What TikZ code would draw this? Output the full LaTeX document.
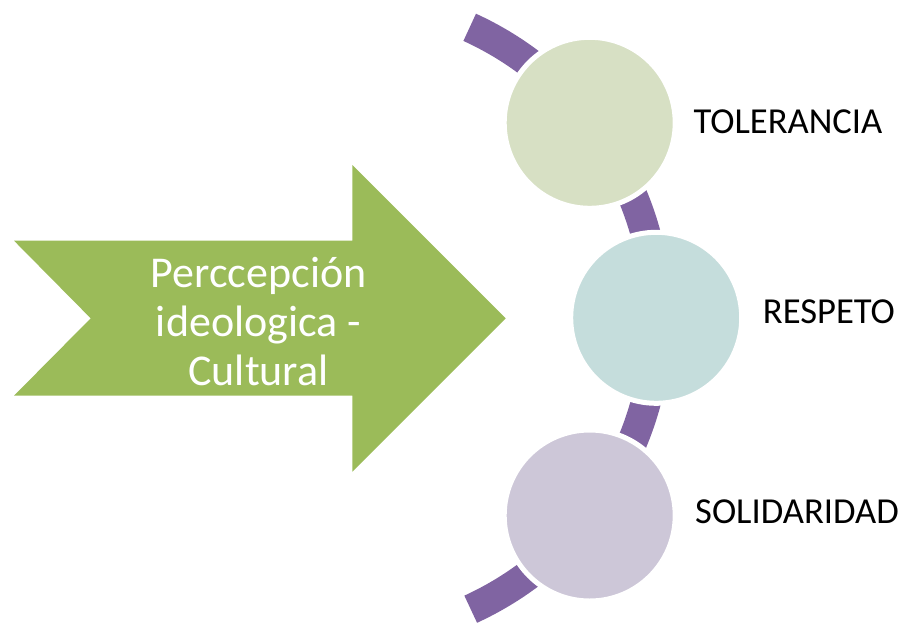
\documentclass[tikz,border=0pt]{standalone}
\usepackage{fontspec}
\setmainfont{Carlito}
\definecolor{arrowgreen}{HTML}{9BBB59}
\definecolor{arcpurple}{HTML}{8064A2}
\definecolor{cgreen}{HTML}{D7E0C4}
\definecolor{cteal}{HTML}{C5DDDC}
\definecolor{clilac}{HTML}{CDC7D8}
\begin{document}
\begin{tikzpicture}[x=1pt,y=-1pt,
  bubble/.style={circle,minimum size=171pt,inner sep=0pt,draw=white,line width=5pt},
  label/.style={anchor=base west,font=\fontsize{36.6}{43}\selectfont,text=black,inner sep=0pt},
  arctrack/.style={draw=arcpurple,line width=30pt}]
\useasboundingbox (0,0) rectangle (902,622);
% notched arrow
\path[fill=arrowgreen] (14,240.7) -- (352.3,240.7) -- (352.3,165) -- (505.7,318.3)
  -- (352.3,471.7) -- (352.3,395.7) -- (14,395.7) -- (90.7,318.3) -- cycle;
\node[anchor=center,align=center,text=white,inner sep=0pt,
  font=\fontsize{44}{49}\selectfont] (arrowtext) at (258.5,322)
  {Perccepción\\ideologica -\\Cultural};
% purple arc
\coordinate (arcc) at (337,318.5);
\draw[arctrack] ([shift={(65.3:320)}]arcc) arc[start angle=65.3,end angle=-65.5,radius=320];
% circles
\node[bubble,fill=cgreen] (c1) at (589.7,122.8) {};
\node[bubble,fill=cteal] (c2) at (656.2,317.8) {};
\node[bubble,fill=clilac] (c3) at (589.7,515.5) {};
% labels
\node[label] (l1) at (693.3,133.3) {TOLERANCIA};
\node[label] (l2) at (762.7,323.3) {RESPETO};
\node[label] (l3) at (695,523.3) {SOLIDARIDAD};
\end{tikzpicture}
\end{document}
